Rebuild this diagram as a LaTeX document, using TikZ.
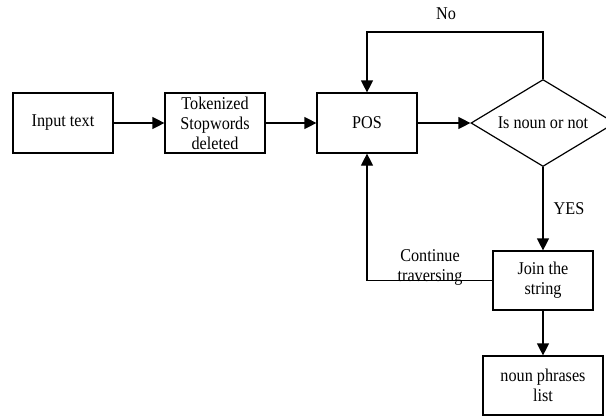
\documentclass[tikz,border=0pt]{standalone}
\usepackage{fontspec}
\setmainfont{Liberation Serif}[FakeStretch=0.9]
\usetikzlibrary{arrows.meta,shapes.geometric}

\begin{document}
\begin{tikzpicture}[x=1pt,y=-1pt,
    font=\fontsize{18}{20}\selectfont,
    caja/.style={draw,line width=1.2pt,minimum width=100pt,minimum height=60pt,align=center,inner sep=0pt},
    rombo/.style={draw,diamond,aspect=1.65,line width=1.2pt,minimum width=144pt,minimum height=87pt,inner sep=0pt},
    flecha/.style={line width=1.2pt,-{Triangle[length=12pt,width=12pt]}},
    linea/.style={line width=1.2pt}]
    \useasboundingbox (0,0) rectangle (606,416);

    % Cajas del proceso
    \node[caja] (entrada) at (63,123) {Input text};
    \node[caja] (token) at (215,123) {Tokenized\\Stopwords\\deleted};
    \node[caja] (pos) at (367,123) {POS};
    \node[rombo] (sustantivo) at (543,123) {Is noun or not};
    \node[caja,minimum height=59pt] (unir) at (543,280.5) {Join the\\string};
    \node[caja,minimum width=120pt,minimum height=59pt] (lista) at (543,385.5) {noun phrases\\list};

    % Etiquetas
    \node (no) at (446,14) {No};
    \node (si) at (569,209) {YES};
    \node[align=center] (continuar) at (430,267) {Continue\\traversing};

    % Flechas
    \draw[flecha] (entrada) -- (token);
    \draw[flecha] (token) -- (pos);
    \draw[flecha] (pos) -- (sustantivo);
    \coordinate (vuelta) at (543,32);
    \draw[flecha] (sustantivo.north) -- (vuelta) -| (pos.north);
    \draw[flecha] (sustantivo) -- (unir);
    \draw[flecha] (unir) -- (lista);
    \draw[flecha] (unir.west) -| (pos.south);
\end{tikzpicture}
\end{document}
